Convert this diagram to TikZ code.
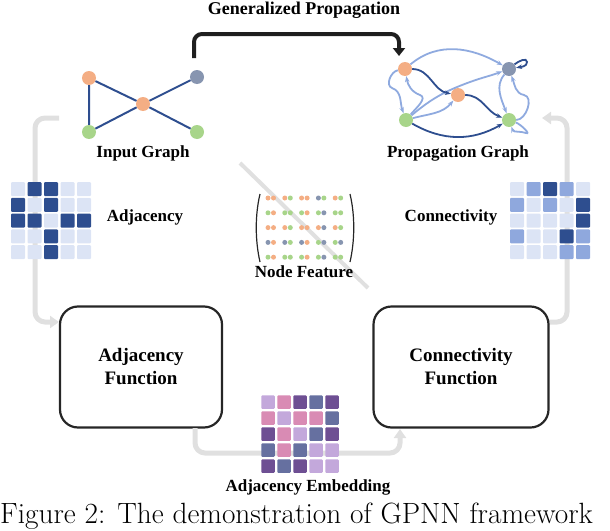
\documentclass[tikz,border=0pt]{standalone}
\usepackage{fontspec}
\newfontfamily\tms{Liberation Serif}
\usetikzlibrary{arrows.meta}
\definecolor{dblue}{HTML}{2E4E8F}
\definecolor{lblue}{HTML}{8FAADF}
\definecolor{pale}{HTML}{DCE4F5}
\definecolor{mblue}{HTML}{8FA8DD}
\definecolor{orn}{HTML}{F4AE84}
\definecolor{grn}{HTML}{A8D58A}
\definecolor{gry}{HTML}{8795B0}
\definecolor{lav}{HTML}{C3A8DB}
\definecolor{pnk}{HTML}{D98BB4}
\definecolor{dvi}{HTML}{6E4F93}
\definecolor{slt}{HTML}{6670A0}
\tikzset{
 lbl/.style={font=\tms\bfseries\fontsize{17}{19}\selectfont, inner sep=0},
 fn/.style={draw=black!85, line width=2.2pt, rounded corners=18pt},
 gnode/.style={circle, minimum size=14pt, inner sep=0},
 gedge/.style={dblue, line width=2pt},
 garr/.style={black!12, line width=5pt, rounded corners=10pt, -{Triangle[length=9pt,width=12pt]}},
 dk/.style={dblue, line width=1.8pt, -{Stealth[length=6pt]}},
 lt/.style={lblue, line width=1.8pt, -{Stealth[length=6pt]}},
 cell/.style={minimum size=14pt, inner sep=0, rounded corners=1pt},
 par/.style={black!85, line width=1.2pt},
}
\begin{document}
\begin{tikzpicture}[x=1pt,y=-1pt]
\useasboundingbox (0,0) rectangle (610,530);
% title and black arrow
\node[lbl, font=\tms\bfseries\fontsize{18}{20}\selectfont] (title) at (304,10) {Generalized Propagation};
\coordinate (ga) at (194,58); \coordinate (gb) at (399,56);
\draw[black!88, line width=4pt, rounded corners=8pt, -{Triangle[length=8pt,width=12pt]}] (ga) |- (300,34) -| (gb);
% input graph
\node[gnode, fill=orn] (a1) at (89,78) {};
\node[gnode, fill=gry] (a2) at (197,77) {};
\node[gnode, fill=orn] (a3) at (143,104) {};
\node[gnode, fill=grn] (a4) at (89,132) {};
\node[gnode, fill=grn] (a5) at (197,132) {};
\draw[gedge] (a1)--(a4) (a1)--(a3) (a3)--(a2) (a3)--(a4) (a3)--(a5);
\node[lbl] (ig) at (143,153) {Input Graph};
% propagation graph
\node[gnode, fill=orn] (p1) at (405,69) {};
\node[gnode, fill=gry] (p2) at (509,69) {};
\node[gnode, fill=orn] (p3) at (458,95) {};
\node[gnode, fill=grn] (p4) at (406,120) {};
\node[gnode, fill=grn] (p5) at (509,120) {};
\draw[lt] (p1) to[out=40,in=150] (p2);
\draw[lt] (p1) to[out=190,in=160] (392,88) to[out=-20,in=110] (p4);
\draw[lt] (p4) to[out=50,in=-20] (420,95) to[out=160,in=-80] (p1);
\draw[lt] (p4) to[out=15,in=-130] (p3);
\draw[lt] (p4) to[out=40,in=200] (470,82) to[out=20,in=-160] (p2);
\draw[lt] (p2) to[out=-130,in=110] (p5);
\draw[lt] (p5) to[out=0,in=-10] (524,95) to[out=170,in=-70] (p2);
\draw[lt] (p5) to[out=-20,in=-20] (526,133) to[out=160,in=-70] (p5);
\draw[dk] (p1) to[out=0,in=170] (p3);
\draw[dk] (p3) to[out=0,in=160] (p5);
\draw[dk] (p4) to[out=-30,in=-150] (p5);
\draw[dk] (p2) to[out=40,in=90] (527,62) to[out=-90,in=10] (p2);
\node[lbl] (pg) at (458,153) {Propagation Graph};
% side arrows
\coordinate (l1) at (59,118); \coordinate (l2) at (59,322);
\draw[garr] (l1) -| (35,220) |- (l2);
\coordinate (r1) at (548,322); \coordinate (r2) at (542,118);
\draw[garr] (r1) -| (567,220) |- (r2);
% adjacency matrix
\foreach \r/\row in {0/{0,1,1,0,0},1/{1,0,1,0,0},2/{1,1,0,1,1},3/{0,0,1,0,0},4/{0,0,1,0,0}}{
 \foreach \v [count=\c from 0] in \row {
  \ifnum\v=1 \def\cc{dblue}\else\def\cc{pale}\fi
  \node[cell, fill=\cc] (am\r\c) at (18+\c*16.5,189+\r*15.8) {};
 }}
\node[lbl] (adjl) at (145,217) {Adjacency};
% connectivity matrix
\foreach \r/\row in {0/{0,1,2,1,0},1/{1,0,1,0,2},2/{0,0,0,0,2},3/{1,0,0,2,1},4/{0,0,0,1,1}}{
 \foreach \v [count=\c from 0] in \row {
  \ifcase\v \def\cc{pale}\or\def\cc{mblue}\or\def\cc{dblue}\fi
  \node[cell, fill=\cc] (cm\r\c) at (517+\c*16.5,189+\r*15.8) {};
 }}
\node[lbl] (conl) at (451,217) {Connectivity};
% node feature
\draw[black!12, line width=4pt] (240,163) -- (368,288);
\foreach \r/\row in {0/{orn,orn,orn,grn,orn,orn,gry,grn,orn,grn},1/{grn,orn,grn,grn,grn,orn,grn,gry,grn,grn},2/{orn,orn,orn,grn,orn,orn,orn,gry,orn,grn},3/{gry,orn,gry,grn,gry,orn,grn,gry,grn,gry},4/{grn,orn,grn,grn,grn,orn,grn,gry,grn,grn}}{
 \foreach \cc [count=\c from 0] in \row {
  \pgfmathsetmacro{\xx}{268+floor(\c/2)*16.8+mod(\c,2)*5.5}
  \fill[\cc] (\xx,198+\r*14.8) circle (2.5);
 }}
\coordinate (pl) at (260,194); \coordinate (pr) at (350,194);
\draw[par] (pl) .. controls (255,215) and (255,240) .. (260,262);
\draw[par] (pr) .. controls (355,215) and (355,240) .. (350,262);
\node[lbl] (nfl) at (304,272) {Node Feature};
% function boxes
\node[fn, minimum width=162pt, minimum height=121pt] (af) at (141,367) {};
\node[lbl, font=\tms\bfseries\fontsize{19}{23}\selectfont, align=center] at (af) {Adjacency\\Function};
\node[fn, minimum width=175pt, minimum height=121pt] (cf) at (461,367) {};
\node[lbl, font=\tms\bfseries\fontsize{19}{23}\selectfont, align=center] at (cf) {Connectivity\\Function};
% bottom arrow
\coordinate (b1) at (195,428); \coordinate (b2) at (400,429);
\draw[garr] (b1) |- (300,453) -| (b2);
% embedding
\foreach \r/\row in {0/{lav,pnk,dvi,slt,dvi},1/{pnk,lav,pnk,pnk,slt},2/{dvi,pnk,lav,slt,dvi},3/{slt,pnk,slt,lav,lav},4/{dvi,slt,dvi,lav,lav}}{
 \foreach \cc [count=\c from 0] in \row {
  \node[cell, minimum size=13.5pt, fill=\cc] (em\r\c) at (268+\c*16,402+\r*16) {};
 }}
\node[lbl] (eml) at (308,487) {Adjacency Embedding};
% caption
\node[anchor=west, inner sep=0, font=\fontsize{29.3}{31}\selectfont] (cap) at (0,516) {Figure 2: The demonstration of GPNN framework};
\end{tikzpicture}
\end{document}
